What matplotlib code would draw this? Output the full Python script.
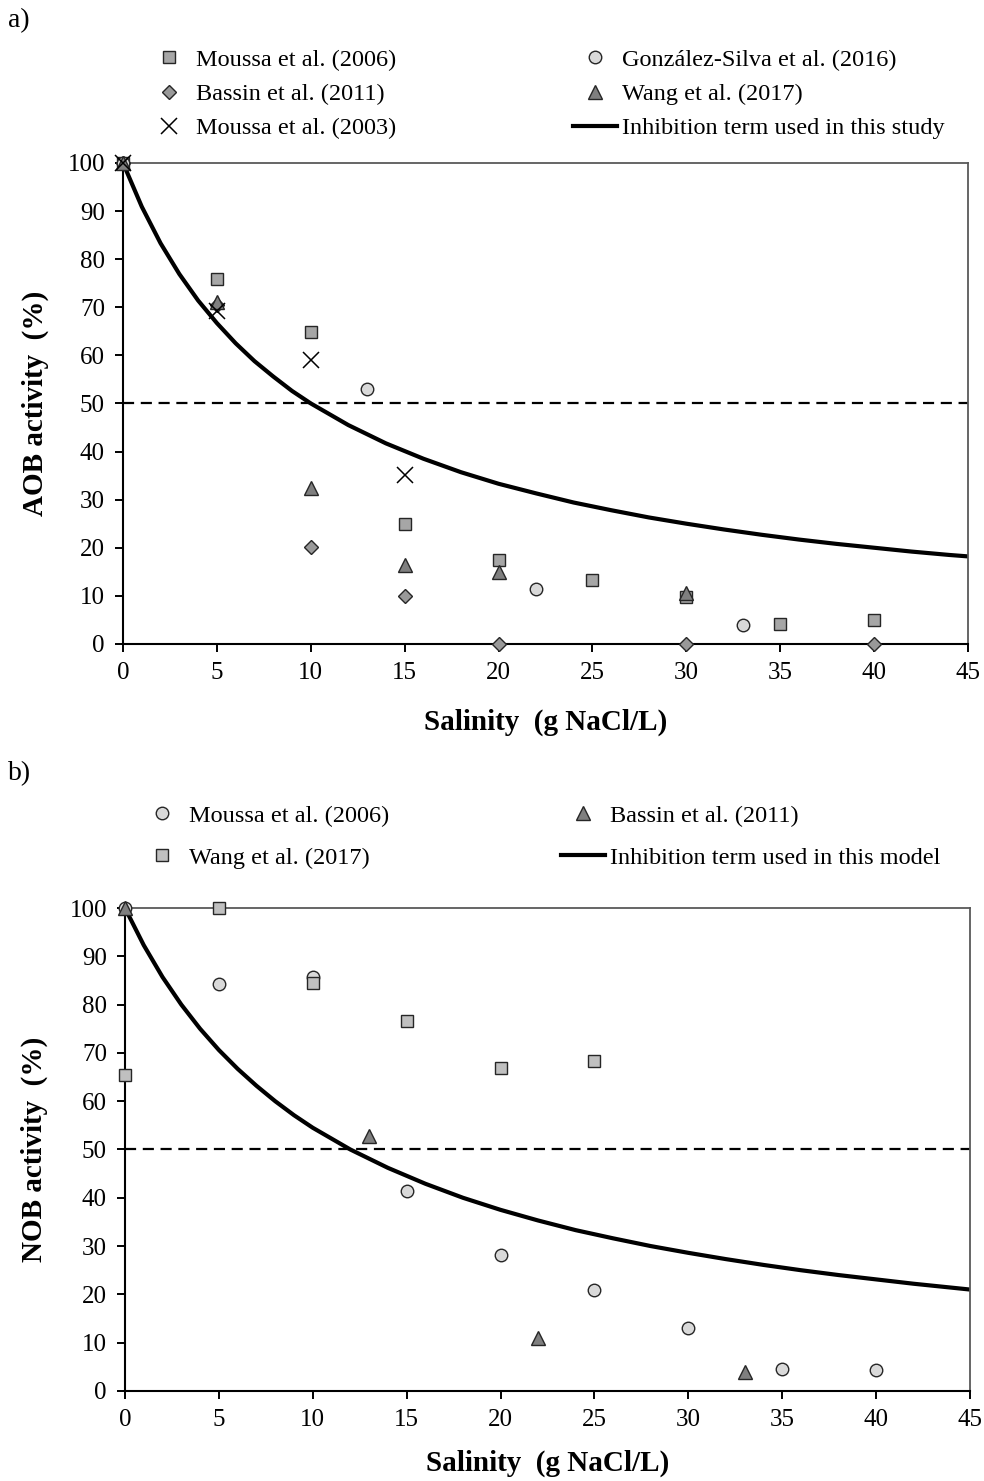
# %% Salinity inhibition of AOB and NOB activity - literature data vs model term

import matplotlib.pyplot as plt
from matplotlib.lines import Line2D

plt.rcParams['font.family'] = ['Liberation Serif', 'DejaVu Serif']

# %% Data

# a) AOB
aob_moussa06_x = [0, 5, 10, 15, 20, 25, 30, 35, 40]
aob_moussa06_y = [100, 75.8, 64.8, 24.9, 17.5, 13.3, 9.8, 4.2, 5.0]
aob_bassin_x = [0, 5, 10, 15, 20, 30, 40]
aob_bassin_y = [100, 70.5, 20.1, 10.0, 0, 0, 0]
aob_moussa03_x = [0, 5, 10, 15]
aob_moussa03_y = [100, 69.2, 59.0, 35.1]
aob_gonzalez_x = [0, 13, 22, 33]
aob_gonzalez_y = [100, 53.0, 11.4, 3.9]
aob_wang_x = [0, 5, 10, 15, 20, 30]
aob_wang_y = [100, 71.0, 32.4, 16.4, 15.0, 10.6]

aob_curve_x = [0, 1, 2, 3, 4, 5, 6, 7, 8, 9, 10, 12, 14, 16, 18, 20, 22, 24,
               26, 28, 30, 32, 34, 36, 38, 40, 42, 44, 45]
aob_curve_y = [100, 90.9, 83.3, 76.9, 71.4, 66.7, 62.5, 58.8, 55.6, 52.6, 50.0,
               45.5, 41.7, 38.5, 35.7, 33.3, 31.3, 29.4, 27.8, 26.3, 25.0, 23.8,
               22.7, 21.7, 20.8, 20.0, 19.2, 18.5, 18.2]

# b) NOB
nob_moussa06_x = [0, 5, 10, 15, 20, 25, 30, 35, 40]
nob_moussa06_y = [100, 84.2, 85.8, 41.4, 28.2, 20.9, 13.0, 4.6, 4.3]
nob_bassin_x = [0, 13, 22, 33]
nob_bassin_y = [100, 52.8, 11.0, 3.9]
nob_wang_x = [0, 5, 10, 15, 20, 25]
nob_wang_y = [65.4, 100, 84.5, 76.5, 66.8, 68.3]

nob_curve_x = aob_curve_x
nob_curve_y = [100, 92.3, 85.7, 80.0, 75.0, 70.6, 66.7, 63.2, 60.0, 57.1, 54.5,
               50.0, 46.2, 42.9, 40.0, 37.5, 35.3, 33.3, 31.6, 30.0, 28.6, 27.3,
               26.1, 25.0, 24.0, 23.1, 22.2, 21.4, 21.0]

half_activity = 50
x_ticks = list(range(0, 50, 5))
y_ticks = list(range(0, 110, 10))

# %% Styling

edge = '#262626'
ms = 9
fs_tick = 18
fs_leg = 17.5
fs_lab = 21


def style_axes(ax):
    ax.set_xlim(0, 45)
    ax.set_ylim(0, 100)
    ax.set_xticks(x_ticks)
    ax.set_yticks(y_ticks)
    ax.tick_params(direction='out', length=6, width=1.4, labelsize=fs_tick, pad=7,
                   top=False, right=False)
    for side in ['left', 'bottom']:
        ax.spines[side].set_color('black')
        ax.spines[side].set_linewidth(1.5)
    for side in ['top', 'right']:
        ax.spines[side].set_color('#595959')
        ax.spines[side].set_linewidth(1.3)
    ax.axhline(half_activity, color='black', lw=1.6, ls=(0, (5, 3)), zorder=1)


def scatter(ax, x, y, marker, face, z, label, size=ms):
    ax.plot(x, y, ls='none', marker=marker, ms=size, mfc=face, mec=edge, mew=1.0,
            clip_on=False, zorder=z, label=label)


fig = plt.figure(figsize=(9.84, 14.81), dpi=100)

# %% a) AOB

ax1 = fig.add_axes([0.125, 0.5652, 0.8587, 0.3248])
style_axes(ax1)
ax1.plot(aob_curve_x, aob_curve_y, color='black', lw=3, zorder=2,
         label='Inhibition term used in this study')
scatter(ax1, aob_moussa06_x, aob_moussa06_y, 's', '#a6a6a6', 4, 'Moussa et al. (2006)')
scatter(ax1, aob_bassin_x, aob_bassin_y, 'D', '#999999', 5, 'Bassin et al. (2011)', size=7.5)
scatter(ax1, aob_gonzalez_x, aob_gonzalez_y, 'o', '#d9d9d9', 6, 'González-Silva et al. (2016)')
scatter(ax1, aob_wang_x, aob_wang_y, '^', '#7f7f7f', 7, 'Wang et al. (2017)', size=10)
ax1.plot(aob_moussa03_x, aob_moussa03_y, ls='none', marker='x', ms=11, mec='black', mew=1.1,
         clip_on=False, zorder=8, label='Moussa et al. (2003)')

ax1.set_xlabel('Salinity  (g NaCl/L)', fontsize=fs_lab, fontweight='bold')
ax1.set_ylabel('AOB activity  (%)', fontsize=fs_lab, fontweight='bold')
ax1.xaxis.set_label_coords(0.5, -0.162)
ax1.xaxis.label.set_va('center')
ax1.yaxis.set_label_coords(-0.104, 0.5)
ax1.yaxis.label.set_va('center')

h, l = ax1.get_legend_handles_labels()
order = ['Moussa et al. (2006)', 'Bassin et al. (2011)', 'Moussa et al. (2003)',
         'González-Silva et al. (2016)', 'Wang et al. (2017)', 'Inhibition term used in this study']
hd = dict(zip(l, h))
fig.legend([hd[k] for k in order], order, loc='upper left', bbox_to_anchor=(0.1494, 0.967),
           ncol=2, frameon=False, fontsize=fs_leg, borderpad=0, borderaxespad=0,
           handlelength=1.8, handletextpad=0.2, columnspacing=7.3, labelspacing=0.5)

fig.text(0.008, 0.986, 'a)', fontsize=20, va='center', ha='left')

# %% b) NOB

ax2 = fig.add_axes([0.127, 0.0608, 0.8587, 0.3261])
style_axes(ax2)
ax2.plot(nob_curve_x, nob_curve_y, color='black', lw=3, zorder=2,
         label='Inhibition term used in this model')
scatter(ax2, nob_moussa06_x, nob_moussa06_y, 'o', '#d9d9d9', 4, 'Moussa et al. (2006)')
scatter(ax2, nob_bassin_x, nob_bassin_y, '^', '#7f7f7f', 5, 'Bassin et al. (2011)', size=10)
scatter(ax2, nob_wang_x, nob_wang_y, 's', '#c0c0c0', 6, 'Wang et al. (2017)')

ax2.set_xlabel('Salinity  (g NaCl/L)', fontsize=fs_lab, fontweight='bold')
ax2.set_ylabel('NOB activity  (%)', fontsize=fs_lab, fontweight='bold')
ax2.xaxis.set_label_coords(0.5, -0.149)
ax2.xaxis.label.set_va('center')
ax2.yaxis.set_label_coords(-0.107, 0.5)
ax2.yaxis.label.set_va('center')

h, l = ax2.get_legend_handles_labels()
order = ['Moussa et al. (2006)', 'Wang et al. (2017)', 'Bassin et al. (2011)',
         'Inhibition term used in this model']
hd = dict(zip(l, h))
fig.legend([hd[k] for k in order], order, loc='upper left', bbox_to_anchor=(0.1423, 0.4566),
           ncol=2, frameon=False, fontsize=fs_leg, borderpad=0, borderaxespad=0,
           handlelength=1.8, handletextpad=0.2, columnspacing=7.1, labelspacing=0.83)

fig.text(0.008, 0.4775, 'b)', fontsize=20, va='center', ha='left')

fig.savefig('out.png', dpi=100)
